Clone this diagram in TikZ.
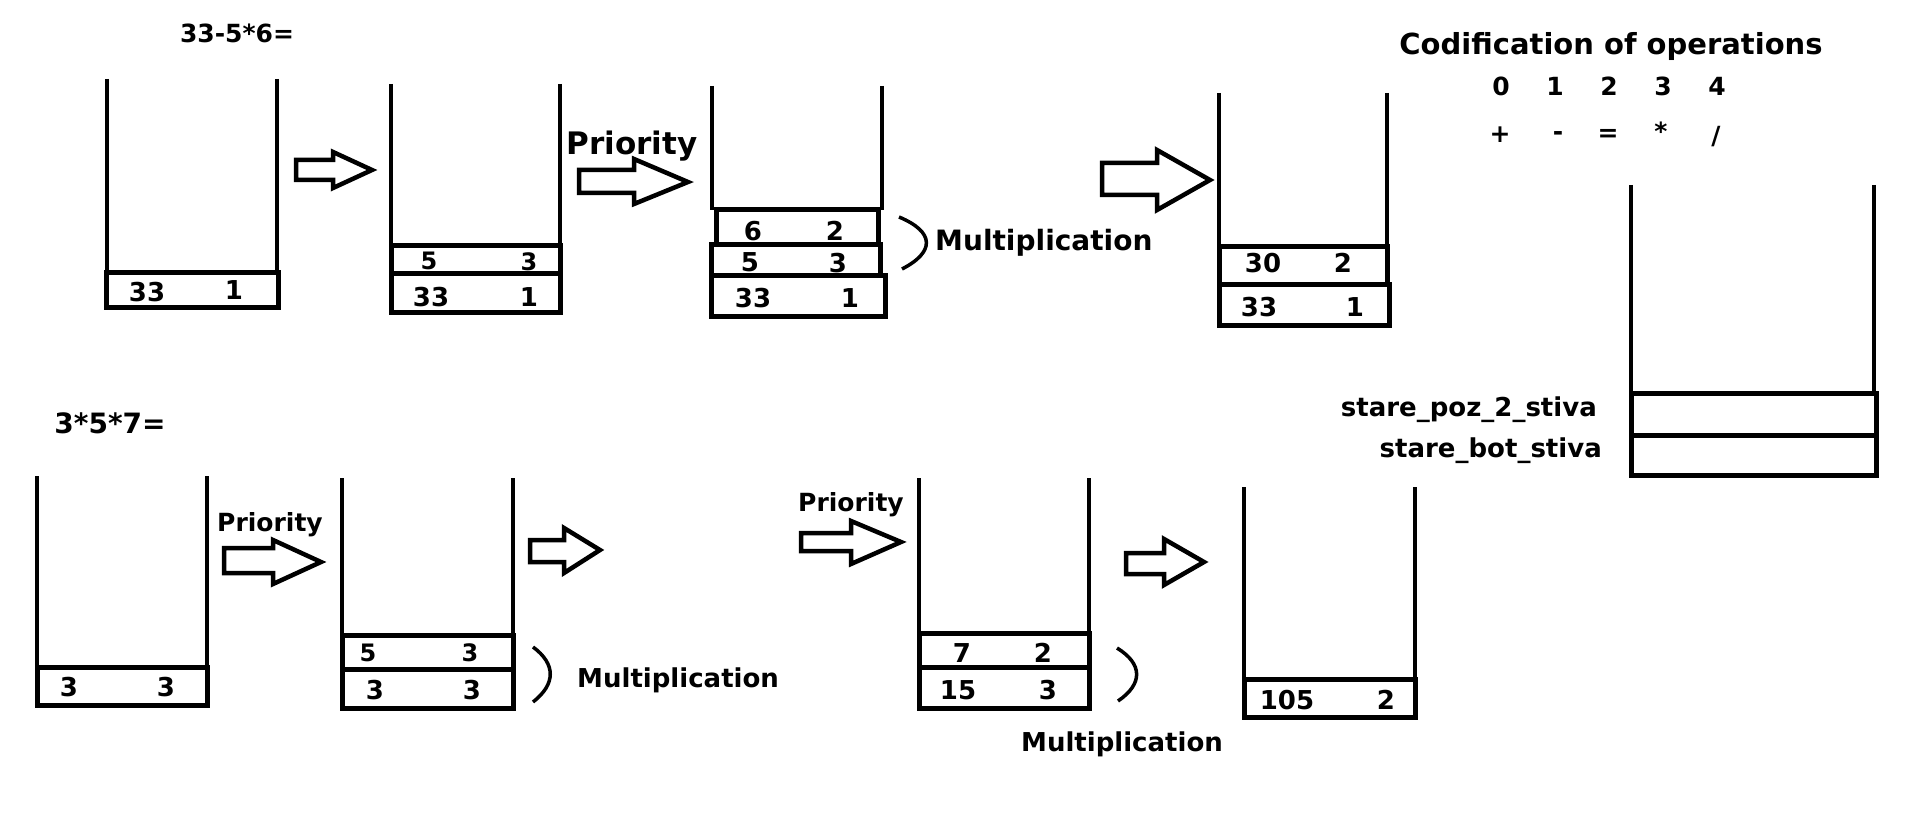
\documentclass[tikz,border=0pt]{standalone}
\usepackage{fontspec}
\newfontfamily\dv{DejaVu Sans}
\newcommand\fs[1]{\dv\bfseries\fontsize{#1}{#1}\selectfont}
\newcommand\stackwalls[4]{\draw[wall] (#1,#3) -- (#1,#4); \draw[wall] (#2,#3) -- (#2,#4);}
\newcommand\blockarr[8]{\draw[barrow] (#1,#4) -- (#3,#4) -- (#3,#6) -- (#2,#8) -- (#3,#7) -- (#3,#5) -- (#1,#5) -- cycle;}
\tikzset{
  wall/.style={line width=4.5pt},
  cellbox/.style={line width=5pt, line join=miter},
  barrow/.style={line width=4.5pt, line join=miter},
  brace/.style={line width=3.5pt},
  lbl/.style={inner sep=0pt, text depth=0pt},
  num/.style={lbl, font=\fs{26}},
}
\begin{document}
\begin{tikzpicture}[x=1pt,y=-1pt]
\useasboundingbox[fill=white] (0,0) rectangle (1914,826);

% ---------- top row: 33-5*6= ----------
\node[lbl, font=\fs{25}] (eq1) at (237,33) {33-5*6=};

% stack 1
\stackwalls{107}{277}{79}{273}
\draw[cellbox] (106,273) rectangle (278,308);
\node[num] (s1a) at (147,292) {33};
\node[num] (s1b) at (234,290) {1};

\blockarr{296}{372}{333}{160}{180}{152}{188}{170}

% stack 2
\stackwalls{391}{560}{84}{246}
\draw[cellbox] (391,246) rectangle (560,274);
\draw[cellbox] (391,274) rectangle (560,313);
\node[num, font=\fs{24}] (s2a) at (429,261) {5};
\node[num, font=\fs{24}] (s2b) at (529,262) {3};
\node[num] (s2c) at (431,297) {33};
\node[num] (s2d) at (529,297) {1};

\node[lbl, font=\fs{31}] (pr1) at (632,143) {Priority};
\blockarr{579}{688}{634}{170}{193}{159}{204}{182}

% stack 3
\stackwalls{712}{882}{86}{210}
\draw[cellbox] (716,210) rectangle (878,245);
\draw[cellbox] (711,245) rectangle (880,276);
\draw[cellbox] (711,276) rectangle (885,317);
\node[num] (s3a) at (753,231) {6};
\node[num] (s3b) at (835,231) {2};
\node[num] (s3c) at (750,262) {5};
\node[num] (s3d) at (838,263) {3};
\node[num] (s3e) at (753,298) {33};
\node[num] (s3f) at (850,298) {1};
\draw[brace] (899,217) .. controls (935,232) and (935,252) .. (902,269);
\node[lbl, font=\fs{28}, anchor=west] (mul1) at (935,240) {Multiplication};

\blockarr{1102}{1210}{1157}{163}{195}{150}{210}{180}

% stack 4
\stackwalls{1219}{1387}{93}{247}
\draw[cellbox] (1219,247) rectangle (1387,285);
\draw[cellbox] (1219,285) rectangle (1389,325);
\node[num] (s4a) at (1263,263) {30};
\node[num] (s4b) at (1343,263) {2};
\node[num] (s4c) at (1259,307) {33};
\node[num] (s4d) at (1355,307) {1};

% ---------- codification ----------
\node[lbl, font=\fs{29}] (cod) at (1611,43) {Codification of operations};
\foreach \x/\d in {1501/0,1555/1,1609/2,1663/3,1717/4}
  \node[lbl, font=\fs{25}] (d\d) at (\x,86) {\d};
\node[lbl, font=\fs{25}] (op0) at (1500,135) {+};
\node[lbl, font=\fs{25}] (op1) at (1558,136) {-};
\node[lbl, font=\fs{25}] (op2) at (1608,135) {=};
\node[lbl, font=\fs{25}] (op3) at (1661,131) {*};
\node[lbl, font=\fs{25}] (op4) at (1716,135) {/};

% right stack
\stackwalls{1631}{1874}{185}{393}
\draw[cellbox] (1631,393) rectangle (1876,435);
\draw[cellbox] (1631,435) rectangle (1876,475);
\node[lbl, font=\fs{26}, anchor=east] (poz) at (1597,407) {stare\_poz\_2\_stiva};
\node[lbl, font=\fs{26}, anchor=east] (bot) at (1602,448) {stare\_bot\_stiva};

% ---------- bottom row: 3*5*7= ----------
\node[lbl, font=\fs{28}] (eq2) at (110,423) {3*5*7=};

% stack 5
\stackwalls{37}{207}{476}{667}
\draw[cellbox] (37,667) rectangle (207,705);
\node[num] (s5a) at (69,687) {3};
\node[num] (s5b) at (166,687) {3};

\node[lbl, font=\fs{25}] (pr2) at (270,522) {Priority};
\blockarr{224}{321}{273}{548}{573}{540}{584}{562}

% stack 6
\stackwalls{342}{513}{478}{635}
\draw[cellbox] (342,635) rectangle (513,669);
\draw[cellbox] (342,669) rectangle (513,708);
\node[num, font=\fs{24}] (s6a) at (368,653) {5};
\node[num, font=\fs{24}] (s6b) at (470,653) {3};
\node[num] (s6c) at (375,690) {3};
\node[num] (s6d) at (472,690) {3};
\draw[brace] (533,647) .. controls (556,664) and (556,684) .. (533,702);
\node[lbl, font=\fs{26}, anchor=west] (mul2) at (577,678) {Multiplication};

\blockarr{530}{600}{564}{540}{562}{528}{573}{550}

\node[lbl, font=\fs{25}] (pr3) at (851,502) {Priority};
\blockarr{801}{901}{851}{533}{551}{521}{564}{542}

% stack 7
\stackwalls{919}{1089}{478}{633}
\draw[cellbox] (919,633) rectangle (1089,667);
\draw[cellbox] (919,667) rectangle (1089,708);
\node[num] (s7a) at (962,653) {7};
\node[num] (s7b) at (1043,653) {2};
\node[num] (s7c) at (958,690) {15};
\node[num] (s7d) at (1048,690) {3};
\draw[brace] (1117,648) .. controls (1143,664) and (1143,684) .. (1118,701);
\node[lbl, font=\fs{26}] (mul3) at (1122,742) {Multiplication};

\blockarr{1126}{1204}{1164}{553}{574}{539}{585}{562}

% stack 8
\stackwalls{1244}{1415}{487}{679}
\draw[cellbox] (1244,679) rectangle (1415,717);
\node[num] (s8a) at (1287,700) {105};
\node[num] (s8b) at (1386,700) {2};
\end{tikzpicture}
\end{document}
